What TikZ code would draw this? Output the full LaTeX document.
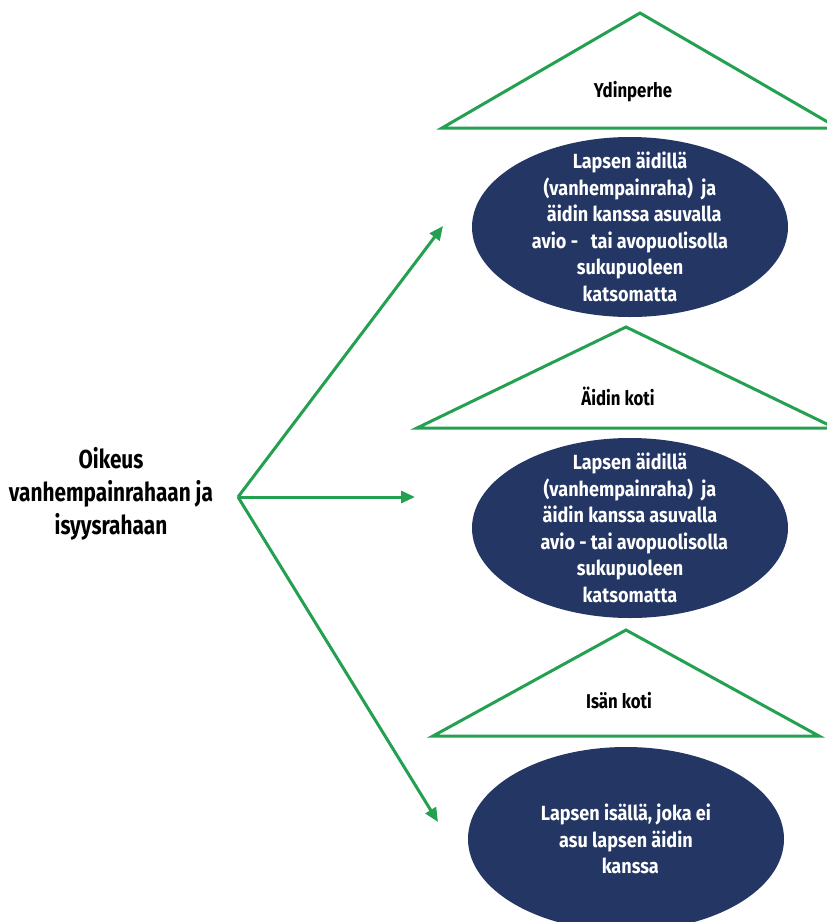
\documentclass[tikz,border=0pt]{standalone}
\usepackage{fontspec}
\setmainfont[FakeStretch=0.8]{Fira Sans}
\newfontfamily\ovalfont[FakeStretch=0.88]{Fira Sans}
\newfontfamily\rooffont[FakeStretch=0.84]{Fira Sans}
\usetikzlibrary{arrows.meta,shapes.geometric,positioning}
\definecolor{navy}{RGB}{35,54,100}
\definecolor{kgreen}{RGB}{35,160,80}

\begin{document}
\begin{tikzpicture}
  [
   x=1pt,y=-1pt,
   bub/.style={ellipse,fill=navy,text=white,inner sep=-30pt,minimum width=316pt,minimum height=180pt,
               align=center,font=\ovalfont\bfseries\fontsize{20.5}{26.5}\selectfont},
   roof/.style={draw=kgreen,line width=3pt,line join=miter},
   rt/.style={font=\rooffont\bfseries\fontsize{20}{24}\selectfont},
   arr/.style={draw=kgreen,line width=3pt,-{Triangle[length=14pt,width=12pt]}}
  ]
   \clip (0,0) rectangle (827,922);

   \node[align=center,font=\bfseries\fontsize{26}{33}\selectfont] (oik) at (111,494)
      {Oikeus\\vanhempainrahaan ja\\isyysrahaan};

   % roofs
   \draw[roof] (442,128) -- (640,13) -- (838,128) -- cycle;
   \draw[roof] (417,428) -- (626,327) -- (835,428) -- cycle;
   \draw[roof] (433,736) -- (626,630) -- (819,736) -- cycle;
   \node[rt] (ydin) at (633,92) {Ydinperhe};
   \node[rt] (aiti) at (618,396) {Äidin koti};
   \node[rt] (isa)  at (619,701) {Isän koti};

   \node[bub] (e1) at (630,227)
      {Lapsen äidillä\\(vanhempainraha)\ \ ja\\\ \ äidin kanssa asuvalla\\avio -\ \ \ tai avopuolisolla\\sukupuoleen\\katsomatta};
   \node[bub] (e2) at (630,528)
      {Lapsen äidillä\\(vanhempainraha)\ \ ja\\äidin kanssa asuvalla\\\ \ avio - tai avopuolisolla\\sukupuoleen\\katsomatta};
   \node[bub,minimum height=184pt] (e3) at (626,839)
      {Lapsen isällä, joka ei\\asu lapsen äidin\\\ \ kanssa};

   \coordinate (fork) at (238,497);
   \coordinate (t1) at (443,226);
   \coordinate (t2) at (415,497);
   \coordinate (t3) at (438,822);

   \draw[arr] (fork) -- (t1);
   \draw[arr] (fork) -- (t2);
   \draw[arr] (fork) -- (t3);

\end{tikzpicture}
\end{document}
